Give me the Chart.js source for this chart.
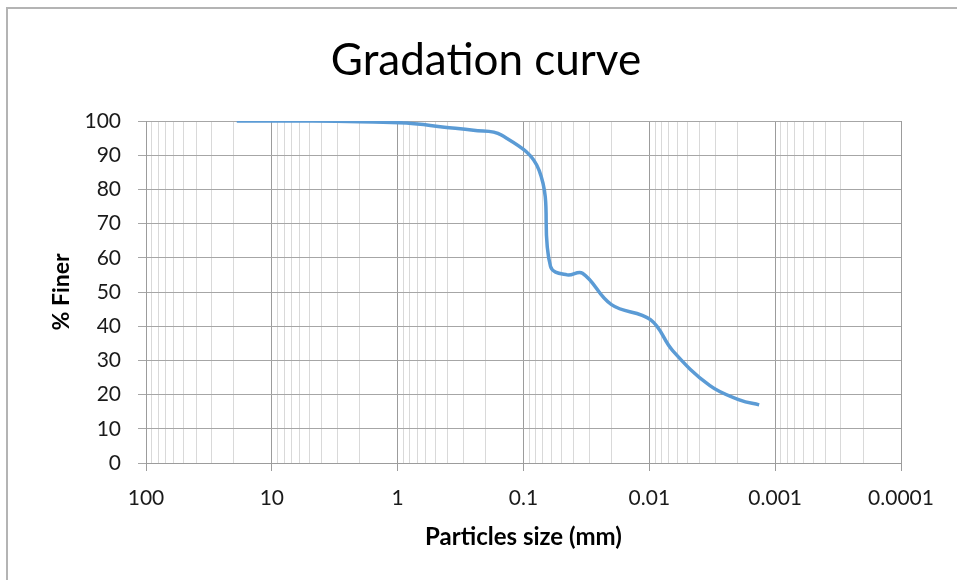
<!DOCTYPE html>
<html>
<head>
<meta charset="utf-8">
<title>Gradation curve</title>
<script src="https://cdn.jsdelivr.net/npm/chart.js@4.4.1/dist/chart.umd.min.js"></script>
<style>
  html, body { margin: 0; padding: 0; background: #ffffff; }
  #wrap { position: relative; width: 957px; height: 580px; overflow: hidden; }
  #frame { position: absolute; left: 6px; top: 7px; width: 1000px; height: 1000px;
           border-left: 2px solid #b4b4b4; border-top: 2px solid #b4b4b4; pointer-events: none; }
  canvas { position: absolute; left: 0; top: 0; }
</style>
</head>
<body>
<div id="wrap">
  <canvas id="chart" width="957" height="580"></canvas>
  <div id="frame"></div>
</div>
<script>
// Particle size distribution (sieve + hydrometer)
const particleSizes = [19, 9.5, 4.75, 2, 0.85, 0.425, 0.25, 0.15, 0.075,
                       0.061, 0.045, 0.034, 0.020, 0.0098, 0.0065, 0.0033, 0.0019, 0.00134];
const percentFiner  = [100, 100, 100, 99.8, 99.4, 98.2, 97.3, 95.9, 85.5,
                       57.5, 55.0, 55.5, 46.3, 41.9, 32.8, 22.6, 18.4, 17.0];

// Axis ranges and labels
const xTickLabels = ['100', '10', '1', '0.1', '0.01', '0.001', '0.0001'];
const xMin = 0.0001, xMax = 100;
const yMin = 0, yMax = 100, yStep = 10;

const FONT = 'Lato, "Liberation Sans", sans-serif';

function isDecade(v) {
  const l = Math.log10(v);
  return Math.abs(l - Math.round(l)) < 1e-9;
}

const points = particleSizes.map((d, i) => ({ x: d, y: percentFiner[i] }));

new Chart(document.getElementById('chart'), {
  type: 'line',
  data: {
    datasets: [{
      label: '% Finer',
      data: points,
      borderColor: '#5b9bd5',
      borderWidth: 3.5,
      pointRadius: 0,
      tension: 0.4,
      fill: false
    }]
  },
  options: {
    responsive: false,
    devicePixelRatio: 1,
    animation: false,
    layout: { padding: { left: 71, right: 56, top: 0, bottom: 0 } },
    plugins: {
      legend: { display: false },
      tooltip: { enabled: false },
      title: {
        display: true,
        text: 'Gradation curve',
        color: '#000000',
        font: { family: FONT, size: 44, weight: 'normal', lineHeight: 1.2 },
        padding: { top: 34.6, bottom: 33.6 }
      }
    },
    scales: {
      x: {
        type: 'logarithmic',
        reverse: true,
        min: xMin,
        max: xMax,
        afterBuildTicks(scale) {
          const ticks = [];
          for (let e = -4; e <= 1; e++) {
            for (let k = 1; k <= 9; k++) {
              ticks.push({ value: Number((k * Math.pow(10, e)).toPrecision(6)) });
            }
          }
          ticks.push({ value: 100 });
          scale.ticks = ticks;
        },
        afterFit(scale) { scale.height = 117; },
        ticks: {
          autoSkip: false,
          maxRotation: 0,
          minRotation: 0,
          padding: 15,
          color: '#1a1a1a',
          font: { family: FONT, size: 21 },
          callback(value) {
            if (!isDecade(value)) return '';
            const idx = Math.round(2 - Math.log10(value));
            return xTickLabels[idx];
          }
        },
        grid: {
          drawOnChartArea: true,
          tickLength: 8,
          lineWidth: 1,
          color: ctx => (ctx.tick && isDecade(ctx.tick.value)) ? '#9c9c9c' : '#d9d9d9',
          tickColor: ctx => (ctx.tick && isDecade(ctx.tick.value)) ? '#9c9c9c' : 'rgba(0,0,0,0)'
        },
        border: { display: true, color: '#9c9c9c', width: 1 },
        title: {
          display: true,
          text: 'Particles size (mm)',
          color: '#000000',
          font: { family: FONT, size: 24, weight: 'bold', lineHeight: 1.2 },
          padding: { top: 0, bottom: 28.6 }
        }
      },
      y: {
        type: 'linear',
        min: yMin,
        max: yMax,
        afterFit(scale) { scale.width = 75; },
        ticks: {
          stepSize: yStep,
          padding: 17,
          color: '#1a1a1a',
          font: { family: FONT, size: 21 }
        },
        grid: {
          tickLength: 8,
          lineWidth: 1,
          color: '#a6a6a6',
          tickColor: '#a6a6a6'
        },
        border: { display: true, color: '#9c9c9c', width: 1 },
        title: {
          display: true,
          text: '% Finer',
          color: '#000000',
          font: { family: FONT, size: 23, weight: 'bold', lineHeight: 1.2 },
          padding: { top: -22.8, bottom: 0 }
        }
      }
    }
  }
});
</script>
</body>
</html>
